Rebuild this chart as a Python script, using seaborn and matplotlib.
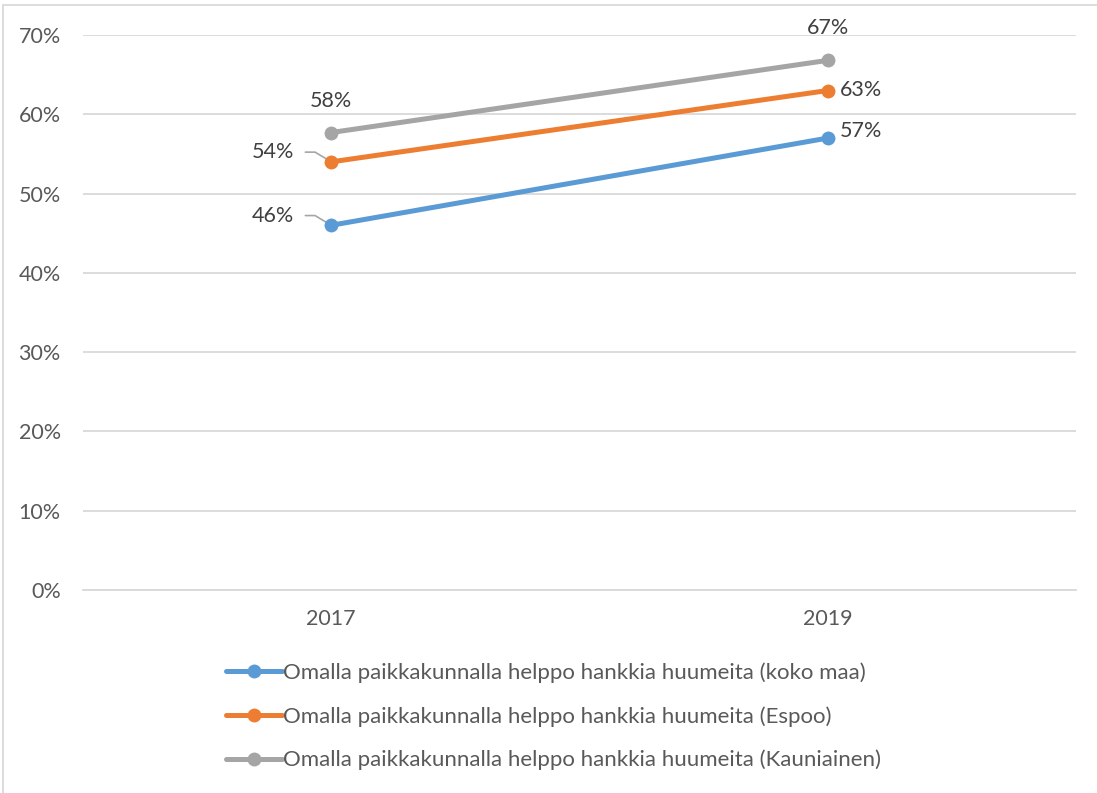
import matplotlib
matplotlib.use("Agg")
import matplotlib.pyplot as plt
from matplotlib.patches import Rectangle
from matplotlib.ticker import PercentFormatter
import pandas as pd
import seaborn as sns

# Data
years = ["2017", "2019"]
series_names = [
    "Omalla paikkakunnalla helppo hankkia huumeita (koko maa)",
    "Omalla paikkakunnalla helppo hankkia huumeita (Espoo)",
    "Omalla paikkakunnalla helppo hankkia huumeita (Kauniainen)",
]
koko_maa = [0.46, 0.57]
espoo = [0.54, 0.63]
kauniainen = [0.577, 0.668]
colors = ["#5B9BD5", "#ED7D31", "#A5A5A5"]

df = pd.DataFrame({
    "year": years * 3,
    "value": koko_maa + espoo + kauniainen,
    "series": [s for s in series_names for _ in years],
})

sns.set_theme(style="white")
plt.rcParams["font.family"] = ["Lato", "DejaVu Sans"]

FS = 15.5

fig = plt.figure(figsize=(10.97, 7.93), dpi=100)
ax = fig.add_axes([83 / 1097, 1 - 590 / 793, (1076 - 83) / 1097, (590 - 35) / 793])

sns.lineplot(
    data=df, x="year", y="value", hue="series", palette=colors,
    marker="o", markersize=10, markeredgewidth=0, linewidth=3.6,
    ax=ax, legend=True, zorder=3,
)

ax.set_xlim(-0.5, 1.5)
ax.set_ylim(0, 0.7)
ax.set_yticks([i / 10 for i in range(8)])
ax.yaxis.set_major_formatter(PercentFormatter(1.0, decimals=0))
ax.grid(axis="y", color="#D9D9D9", linewidth=1.3)
ax.set_axisbelow(True)
for s in ["top", "right", "left"]:
    ax.spines[s].set_visible(False)
ax.spines["bottom"].set_color("#D9D9D9")
ax.spines["bottom"].set_linewidth(1.3)
ax.set_xlabel("")
ax.set_ylabel("")
ax.tick_params(axis="y", length=0, pad=16, labelsize=FS, labelcolor="#595959")
ax.tick_params(axis="x", length=0, pad=14, labelsize=FS, labelcolor="#595959")

lbl = dict(fontsize=FS, color="#404040")
lead = dict(arrowstyle="-", color="#A6A6A6", lw=1.2, shrinkA=6, shrinkB=0,
            relpos=(1, 0.5), connectionstyle="angle,angleA=0,angleB=-31")

# 2017 labels
ax.annotate(f"{koko_maa[0]:.0%}", (0, koko_maa[0]), xytext=(-27, 7),
            textcoords="offset points", ha="right", va="center",
            arrowprops=lead, zorder=2, **lbl)
ax.annotate(f"{espoo[0]:.0%}", (0, espoo[0]), xytext=(-27, 7),
            textcoords="offset points", ha="right", va="center",
            arrowprops=lead, zorder=2, **lbl)
ax.annotate(f"{kauniainen[0]:.0%}", (0, kauniainen[0]), xytext=(0, 23),
            textcoords="offset points", ha="center", va="center", **lbl)
# 2019 labels
ax.annotate(f"{koko_maa[1]:.0%}", (1, koko_maa[1]), xytext=(9, 5),
            textcoords="offset points", ha="left", va="center", **lbl)
ax.annotate(f"{espoo[1]:.0%}", (1, espoo[1]), xytext=(9, 0),
            textcoords="offset points", ha="left", va="center", **lbl)
ax.annotate(f"{kauniainen[1]:.0%}", (1, kauniainen[1]), xytext=(0, 23),
            textcoords="offset points", ha="center", va="center", **lbl)

# Legend below the plot
handles, labels = ax.get_legend_handles_labels()
ax.get_legend().remove()
leg = fig.legend(
    handles, labels, loc="upper left",
    bbox_to_anchor=(226 / 1097, 1 - 662 / 793),
    frameon=False, fontsize=16, labelcolor="#595959",
    handlelength=2.5, handletextpad=0.05, labelspacing=1.05,
    borderaxespad=0, borderpad=0,
)

# Chart border
fig.patches.append(Rectangle((3 / 1097, -0.01), 1.2, 1 - 5 / 793 + 0.01,
                             transform=fig.transFigure, fill=False,
                             edgecolor="#D9D9D9", linewidth=1.3))

fig.savefig("out.png", dpi=100)
